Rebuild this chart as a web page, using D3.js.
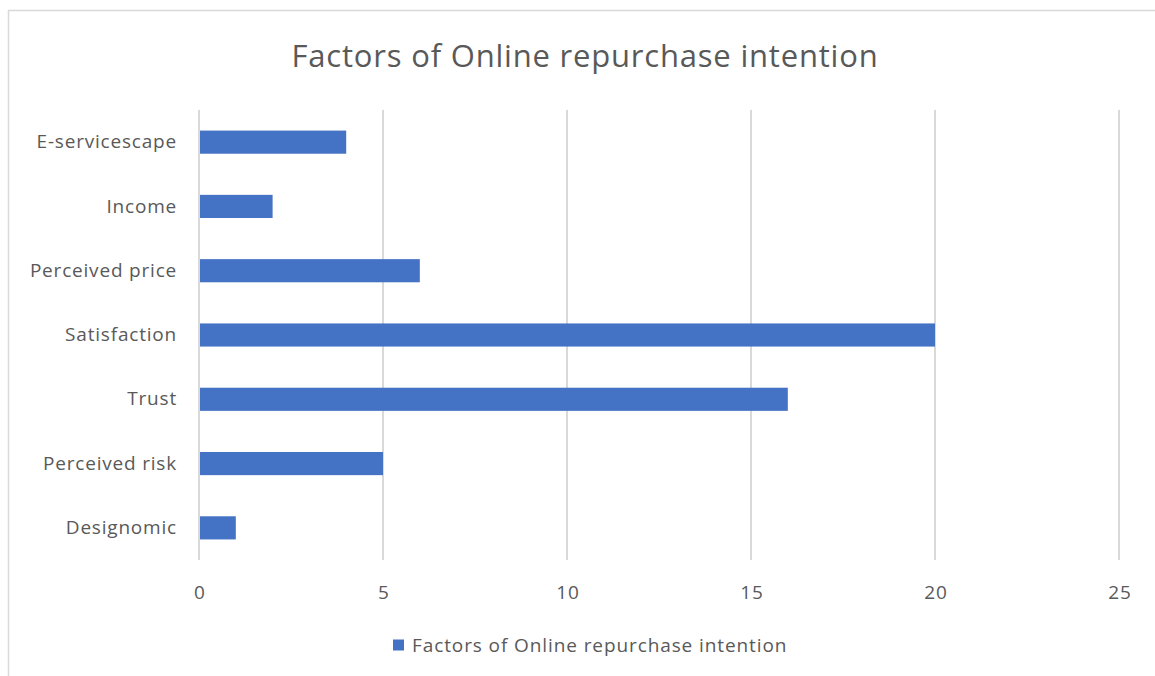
<!DOCTYPE html>
<html>
<head>
<meta charset="utf-8">
<script src="https://cdn.jsdelivr.net/npm/d3@7"></script>
<style>
  body { margin: 0; background: #fff; }
  svg text { font-family: "Open Sans", "Noto Sans", sans-serif; fill: #595959; }
</style>
</head>
<body>
<div id="chart"></div>
<script>
// data -----------------------------------------------------------------
const categories = ['E-servicescape', 'Income', 'Perceived price', 'Satisfaction', 'Trust', 'Perceived risk', 'Designomic'];
const values = [4, 2, 6, 20, 16, 5, 1];
const xTicks = [0, 5, 10, 15, 20, 25];
const chartTitle = 'Factors of Online repurchase intention';
const seriesName = 'Factors of Online repurchase intention';

const width = 1155;
const height = 676;
const margin = { top: 110, right: 35, bottom: 116, left: 199 };
const barColor = '#4472C4';
const labelSize = '19px';
const labelSpacing = '0.8px';

const svg = d3.select('#chart').append('svg')
  .attr('width', width)
  .attr('height', height);

// chart frame (only top and left edge visible in the crop)
svg.append('path')
  .attr('d', `M8.5,${height} V10.5 H${width}`)
  .attr('fill', 'none')
  .attr('stroke', '#d9d9d9')
  .attr('stroke-width', 1.5);

const x = d3.scaleLinear()
  .domain([0, 25])
  .range([margin.left, width - margin.right - 1]);

const y = d3.scaleBand()
  .domain(categories)
  .range([margin.top, height - margin.bottom])
  .paddingInner(0.64)
  .paddingOuter(0.32);

// gridlines ------------------------------------------------------------
svg.append('g')
  .selectAll('line')
  .data(xTicks)
  .enter()
  .append('line')
  .attr('x1', d => x(d))
  .attr('x2', d => x(d))
  .attr('y1', margin.top)
  .attr('y2', height - margin.bottom)
  .attr('stroke', '#d9d9d9')
  .attr('stroke-width', 2);

// bars -----------------------------------------------------------------
svg.append('g')
  .selectAll('rect')
  .data(categories)
  .enter()
  .append('rect')
  .attr('x', x(0) + 1)
  .attr('y', d => y(d))
  .attr('width', (d, i) => x(values[i]) - x(0) - 1)
  .attr('height', y.bandwidth())
  .attr('fill', barColor);

// x axis labels
const xAxis = svg.append('g')
  .attr('transform', `translate(0,${height - margin.bottom + 32})`)
  .call(d3.axisBottom(x).tickValues(xTicks).tickSize(0).tickPadding(0));
xAxis.select('.domain').remove();
xAxis.selectAll('text')
  .attr('font-size', labelSize)
  .attr('dy', '0.35em')
  .attr('dx', '0.4px')
  .style('letter-spacing', labelSpacing)
  .style('font-family', '"Open Sans", "Noto Sans", sans-serif')
  .attr('fill', '#595959');

// y axis labels
const yAxis = svg.append('g')
  .attr('transform', `translate(${margin.left - 22},0)`)
  .call(d3.axisLeft(y).tickSize(0).tickPadding(0));
yAxis.select('.domain').remove();
yAxis.selectAll('text')
  .attr('font-size', labelSize)
  .style('letter-spacing', labelSpacing)
  .style('font-family', '"Open Sans", "Noto Sans", sans-serif')
  .attr('fill', '#595959');

// title ----------------------------------------------------------------
svg.append('text')
  .attr('x', 585)
  .attr('y', 56)
  .attr('dy', '0.35em')
  .attr('text-anchor', 'middle')
  .attr('font-size', '31px')
  .style('letter-spacing', '0.8px')
  .text(chartTitle);

// legend ---------------------------------------------------------------
const legend = svg.append('g')
  .attr('transform', 'translate(393,645)');
legend.append('rect')
  .attr('x', 0)
  .attr('y', -5.5)
  .attr('width', 11)
  .attr('height', 11)
  .attr('fill', barColor);
legend.append('text')
  .attr('x', 19)
  .attr('dy', '0.35em')
  .attr('font-size', labelSize)
  .style('letter-spacing', '0.9px')
  .text(seriesName);
</script>
</body>
</html>
